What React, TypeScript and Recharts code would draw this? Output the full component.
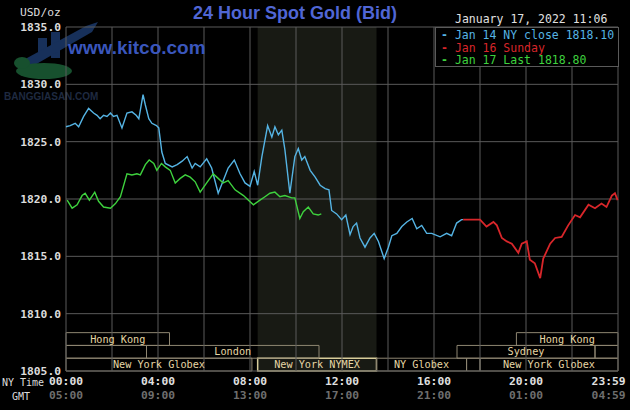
import React from "react";
import {
  LineChart,
  Line,
  XAxis,
  YAxis,
  ReferenceArea,
  ReferenceLine,
} from "recharts";

// minutes after NY midnight, price
const jan14: [number, number][] = [
  [0, 1826.3], [11, 1826.4], [24, 1826.6], [33, 1826.3], [46, 1827.2], [59, 1827.9],
  [72, 1827.5], [81, 1827.3], [89, 1827.0], [98, 1827.3], [107, 1827.2], [116, 1827.5],
  [124, 1827.2], [133, 1827.3], [146, 1826.2], [159, 1827.5], [172, 1827.6], [183, 1827.3],
  [190, 1827.0], [201, 1829.1], [207, 1828.2], [216, 1827.0], [224, 1826.6], [236, 1826.4],
  [242, 1826.2], [250, 1824.1], [259, 1823.1], [277, 1822.8], [290, 1823.0], [303, 1823.3],
  [316, 1823.7], [329, 1822.7], [337, 1823.1], [350, 1822.8], [367, 1823.5], [380, 1822.7],
  [397, 1820.5], [410, 1821.6], [423, 1822.7], [439, 1823.4], [454, 1822.2], [467, 1821.4],
  [480, 1821.1], [491, 1822.4], [500, 1821.2], [511, 1823.7], [526, 1826.4], [537, 1825.4],
  [545, 1826.3], [554, 1825.6], [563, 1826.0], [571, 1824.3], [584, 1820.5], [597, 1823.7],
  [606, 1824.4], [615, 1823.4], [623, 1823.7], [637, 1822.5], [650, 1821.9], [663, 1821.2],
  [676, 1820.9], [686, 1820.8], [693, 1819.0], [706, 1818.7], [719, 1818.2], [730, 1818.6],
  [741, 1816.9], [749, 1817.6], [758, 1817.9], [767, 1816.6], [780, 1815.8], [793, 1816.6],
  [804, 1817.0], [815, 1816.3], [830, 1814.8], [841, 1815.8], [850, 1816.8], [863, 1817.0],
  [876, 1817.6], [889, 1818.0], [903, 1818.3], [915, 1817.4], [928, 1817.7], [941, 1817.0],
  [954, 1817.0], [976, 1816.7], [993, 1817.0], [1006, 1816.8], [1019, 1817.9], [1032, 1818.2],
  [1036, 1818.2],
];

const jan16: [number, number][] = [
  [1036, 1818.2], [1080, 1818.2], [1097, 1817.6], [1115, 1818.0], [1124, 1817.7], [1137, 1816.6],
  [1150, 1816.3], [1163, 1816.1], [1180, 1815.3], [1189, 1816.1], [1202, 1816.3], [1210, 1814.7],
  [1223, 1814.4], [1237, 1813.1], [1245, 1814.8], [1263, 1816.1], [1276, 1816.6], [1293, 1816.7],
  [1310, 1817.7], [1328, 1818.6], [1341, 1818.4], [1363, 1819.5], [1380, 1819.2], [1397, 1819.6],
  [1410, 1819.3], [1424, 1820.3], [1432, 1820.5], [1439, 1819.9],
];

const jan17: [number, number][] = [
  [3, 1819.9], [16, 1819.2], [29, 1819.5], [42, 1820.3], [50, 1820.5], [61, 1819.9],
  [75, 1820.6], [85, 1819.8], [98, 1819.3], [116, 1819.2], [129, 1819.6], [142, 1820.2],
  [159, 1822.2], [172, 1822.1], [185, 1822.2], [194, 1822.1], [207, 1823.0], [217, 1823.4],
  [229, 1823.1], [237, 1822.5], [249, 1823.1], [259, 1822.8], [272, 1822.5], [285, 1821.4],
  [298, 1821.8], [311, 1822.1], [324, 1821.9], [337, 1821.5], [350, 1820.6], [367, 1821.4],
  [384, 1822.2], [397, 1821.8], [410, 1821.4], [423, 1821.6], [441, 1820.8], [463, 1820.3],
  [476, 1819.9], [489, 1819.5], [506, 1819.9], [519, 1820.2], [532, 1820.5], [545, 1820.6],
  [558, 1820.2], [571, 1820.3], [589, 1820.1], [597, 1820.1], [610, 1818.3], [619, 1818.9],
  [632, 1819.3], [645, 1818.7], [658, 1818.6], [666, 1818.7],
];

const seriesNames = ["Jan 14 NY close 1818.10", "Jan 16 Sunday", "Jan 17 Last 1818.80"];
const seriesColors = ["#55b4e4", "#d8262a", "#3ed23e"];

const timeTicks = [0, 240, 480, 720, 960, 1200, 1439];
const nyTimeLabels = ["00:00", "04:00", "08:00", "12:00", "16:00", "20:00", "23:59"];
const gmtLabels = ["05:00", "09:00", "13:00", "17:00", "21:00", "01:00", "04:59"];
const gridTimes = [0, 120, 240, 360, 480, 600, 720, 840, 960, 1080, 1200, 1320, 1440];
const priceTicks = [1805, 1810, 1815, 1820, 1825, 1830, 1835];

// trading sessions: [start, end, label, row (0 = bottom), current]
const sessions: [number, number, string, number, boolean][] = [
  [0, 485, "New York Globex", 0, false],
  [500, 810, "New York NYMEX", 0, true],
  [810, 1045, "NY Globex", 0, false],
  [1045, 1080, "", 0, false],
  [1080, 1440, "New York Globex", 0, false],
  [0, 210, "", 1, false],
  [210, 660, "London", 1, false],
  [1020, 1380, "Sydney", 1, false],
  [1380, 1440, "", 1, false],
  [0, 270, "Hong Kong", 2, false],
  [1175, 1440, "Hong Kong", 2, false],
];
const nymexHours = [500, 810];

const MONO = "'DejaVu Sans Mono', monospace";
const SANS = "'Liberation Sans', Arial, sans-serif";
const GRID = "#5a5a5a";
const rowH = 1.115;

const toRows = (pts: [number, number][]) => pts.map(([t, p]) => ({ t, p }));

const XTick = (props: any) => {
  const { x, y, index } = props;
  const last = index === timeTicks.length - 1;
  const tx = last ? x + 8 : x;
  const anchor = last ? "end" : "middle";
  return (
    <g>
      <text x={tx} y={y + 12} textAnchor={anchor} fill="#e0e0e0" fontSize={11.3} fontWeight="bold" fontFamily={MONO}>
        {nyTimeLabels[index]}
      </text>
      <text x={tx} y={y + 26} textAnchor={anchor} fill="#6e6e6e" fontSize={11.3} fontWeight="bold" fontFamily={MONO}>
        {gmtLabels[index]}
      </text>
    </g>
  );
};

export default function App() {
  const lines = [jan14, jan16, jan17];
  return (
    <div
      style={{
        position: "absolute",
        left: 0,
        top: 0,
        width: 630,
        height: 410,
        background: "#000",
        overflow: "hidden",
      }}
    >
      {/* faint site watermark */}
      <svg width={130} height={100} style={{ position: "absolute", left: 0, top: 0 }}>
        <rect x={38} y={38} width={9} height={20} fill="#17305a" />
        <rect x={51} y={32} width={9} height={26} fill="#17305a" />
        <polygon points="16,64 86,26 98,22 92,32 26,70" fill="#17305a" />
        <ellipse cx={44} cy={71} rx={28} ry={8} fill="#17502e" />
        <ellipse cx={22} cy={63} rx={8} ry={6} fill="#17502e" />
      </svg>
      <div
        style={{
          position: "absolute",
          left: 4,
          top: 91,
          fontFamily: SANS,
          fontWeight: "bold",
          fontSize: 10,
          color: "#1f2a40",
        }}
      >
        BANGGIASAN.COM
      </div>

      <LineChart width={630} height={410} margin={{ top: 27, right: 12, left: 0, bottom: 0 }}>
        <ReferenceArea
          x1={nymexHours[0]}
          x2={nymexHours[1]}
          y1={1805}
          y2={1835}
          fill="#181a14"
          fillOpacity={1}
          stroke="none"
        />
        {priceTicks.map((p) => (
          <ReferenceLine key={"h" + p} y={p} stroke={GRID} />
        ))}
        {gridTimes.map((g) => (
          <ReferenceLine key={"v" + g} x={g} stroke={GRID} />
        ))}
        <XAxis
          dataKey="t"
          type="number"
          domain={[0, 1440]}
          ticks={timeTicks}
          allowDuplicatedCategory={false}
          axisLine={false}
          tickLine={false}
          tickSize={0}
          height={39}
          tick={<XTick />}
          interval={0}
        />
        <YAxis
          type="number"
          domain={[1805, 1835]}
          ticks={priceTicks}
          width={66}
          axisLine={false}
          tickLine={false}
          tickSize={0}
          tickMargin={5}
          interval={0}
          tickFormatter={(v: number) => v.toFixed(1)}
          tick={{ fill: "#dcdcdc", fontSize: 11.3, fontWeight: "bold", fontFamily: MONO }}
        />
        {sessions.map(([s, e, name, row, cur], i) => (
          <ReferenceArea
            key={"s" + i}
            x1={s}
            x2={e}
            y1={1805 + row * rowH}
            y2={1805 + (row + 1) * rowH}
            fill="none"
            stroke={cur ? "#d8cc9a" : "#8e8672"}
            strokeWidth={cur ? 1.5 : 1}
            label={{
              value: name,
              position: "center",
              fill: "#e6d6a4",
              fontSize: 10.2,
              fontFamily: MONO,
            }}
          />
        ))}
        {lines.map((pts, i) => (
          <Line
            key={i}
            data={toRows(pts)}
            dataKey="p"
            type="linear"
            stroke={seriesColors[i]}
            strokeWidth={i === 1 ? 1.8 : 1.4}
            dot={false}
            isAnimationActive={false}
          />
        ))}
      </LineChart>

      {/* header texts */}
      <div style={{ position: "absolute", left: 20, top: 6, fontFamily: MONO, fontSize: 11.3, color: "#dcdcdc" }}>
        USD/oz
      </div>
      <div
        style={{
          position: "absolute",
          left: 0,
          width: 590,
          top: 3,
          textAlign: "center",
          fontFamily: SANS,
          fontWeight: "bold",
          fontSize: 18,
          color: "#5066d4",
        }}
      >
        24 Hour Spot Gold (Bid)
      </div>
      <div style={{ position: "absolute", left: 455, top: 12, fontFamily: MONO, fontSize: 11.5, color: "#e0e0e0" }}>
        January 17, 2022 11:06
      </div>
      <div
        style={{
          position: "absolute",
          left: 68,
          top: 37,
          fontFamily: SANS,
          fontWeight: "bold",
          fontSize: 19,
          color: "#3a56bc",
        }}
      >
        www.kitco.com
      </div>

      {/* legend */}
      <div
        style={{
          position: "absolute",
          left: 435,
          top: 27,
          width: 184,
          height: 40,
          background: "#000",
          border: "1px solid " + GRID,
          boxSizing: "border-box",
          paddingTop: 1,
        }}
      >
        {seriesNames.map((n, i) => (
          <div
            key={n}
            style={{
              fontFamily: MONO,
              fontSize: 11.5,
              lineHeight: "12.5px",
              color: seriesColors[i],
              whiteSpace: "nowrap",
              paddingLeft: 5,
            }}
          >
            <span style={{ fontWeight: "bold" }}>-</span> {n}
          </div>
        ))}
      </div>

      <div style={{ position: "absolute", left: 2, top: 377, fontFamily: MONO, fontSize: 10, color: "#dcdcdc" }}>
        NY Time
      </div>
      <div style={{ position: "absolute", left: 12, top: 391, fontFamily: MONO, fontSize: 10, color: "#dcdcdc" }}>
        GMT
      </div>
    </div>
  );
}
